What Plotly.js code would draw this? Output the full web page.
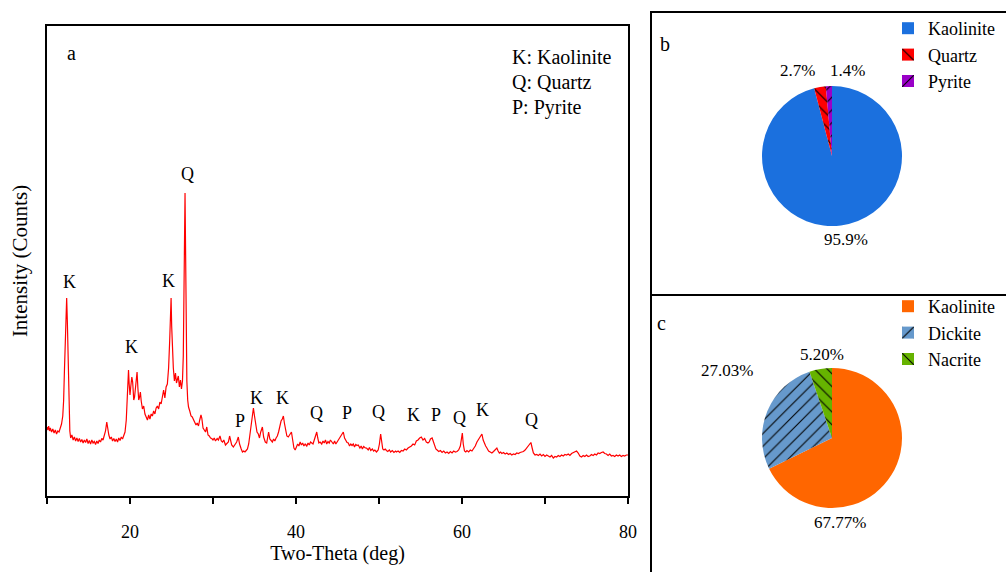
<!DOCTYPE html>
<html>
<head>
<meta charset="utf-8">
<script src="https://cdn.plot.ly/plotly-3.0.1.min.js"></script>
<style>html,body{margin:0;padding:0;background:#fff;}#chart{width:1006px;height:572px;}</style>
</head>
<body>
<div id="chart"></div>
<script>
// ---------- Panel a: XRD pattern ----------
const xrdTheta = [
10.00,10.10,10.20,10.30,10.40,10.55,10.70,10.85,11.00,11.15,11.30,11.45,11.60,11.75,11.90,12.00,12.10,12.20,12.30,12.37,12.45,12.55,12.65,12.75,12.85,
13.00,13.15,13.30,13.45,13.60,13.75,13.90,14.05,14.20,14.35,14.50,14.65,14.80,14.95,15.10,15.25,15.40,15.55,15.70,15.85,16.00,16.15,16.30,16.45,16.60,16.75,16.90,
17.05,17.20,17.30,17.45,17.60,17.75,17.90,18.05,18.20,18.35,18.50,18.65,18.80,18.95,19.10,19.25,19.40,19.55,19.65,19.75,19.82,19.90,20.00,20.10,20.22,20.32,20.45,
20.55,20.70,20.85,20.95,21.05,21.15,21.25,21.35,21.50,21.65,21.80,21.95,22.10,22.25,22.40,22.55,22.70,22.85,23.00,23.15,23.30,23.45,23.60,23.75,23.90,24.05,24.20,
24.35,24.50,24.65,24.78,24.88,24.95,25.02,25.12,25.22,25.35,25.48,25.60,25.72,25.82,25.95,26.08,26.20,26.32,26.42,26.50,26.58,26.63,26.68,26.75,26.85,26.95,
27.05,27.20,27.35,27.50,27.65,27.80,27.95,28.10,28.25,28.40,28.55,28.65,28.80,28.95,29.10,29.25,29.40,29.55,29.70,29.85,30.00,30.15,30.30,30.50,30.65,30.84,
31.00,31.15,31.30,31.50,31.65,31.85,32.00,32.10,32.25,32.45,32.65,32.85,33.05,33.20,33.40,33.55,33.70,33.85,34.00,34.15,34.30,34.45,34.60,34.75,34.87,35.00,
35.15,35.30,35.46,35.60,35.75,35.95,36.10,36.30,36.47,36.60,36.70,36.85,37.00,37.15,37.30,37.45,37.60,37.75,37.90,38.05,38.20,38.35,38.48,38.60,38.75,38.90,
39.07,39.25,39.45,39.60,39.75,39.90,40.05,40.20,40.35,40.50,40.65,40.80,40.95,41.10,41.30,41.45,41.60,41.75,41.90,42.05,42.20,42.35,42.50,42.62,42.75,42.90,
43.10,43.25,43.40,43.55,43.70,43.85,44.00,44.15,44.30,44.50,44.65,44.80,44.95,45.10,45.25,45.40,45.55,45.70,45.85,46.00,46.15,46.30,46.45,46.60,46.75,46.90,
47.05,47.20,47.35,47.50,47.70,47.85,48.00,48.15,48.35,48.50,48.70,48.85,49.00,49.20,49.35,49.50,49.70,49.90,50.05,50.20,50.32,50.45,50.60,50.75,50.90,51.05,
51.25,51.40,51.60,51.80,52.00,52.10,52.30,52.50,52.70,52.90,53.10,53.30,53.50,53.70,53.90,54.10,54.30,54.50,54.70,54.90,55.10,55.30,55.50,55.70,55.90,56.05,
56.20,56.40,56.55,56.70,56.85,57.00,57.20,57.40,57.60,57.80,58.00,58.20,58.40,58.60,58.80,59.00,59.20,59.40,59.60,59.80,59.95,60.04,60.15,60.30,60.45,60.60,
60.80,61.00,61.20,61.40,61.60,61.80,62.00,62.20,62.40,62.55,62.70,62.85,63.00,63.20,63.40,63.60,63.80,64.00,64.20,64.35,64.50,64.65,64.80,65.00,65.20,65.40,
65.60,65.80,66.00,66.20,66.40,66.60,66.80,67.00,67.20,67.40,67.60,67.80,68.00,68.15,68.30,68.45,68.60,68.80,69.00,69.20,69.40,69.60,69.80,70.00,70.20,70.40,
70.60,70.80,71.00,71.20,71.40,71.60,71.80,72.00,72.20,72.40,72.60,72.80,73.00,73.20,73.40,73.60,73.80,74.00,74.20,74.40,74.60,74.80,75.00,75.20,75.40,75.60,
75.80,76.00,76.20,76.40,76.60,76.80,77.00,77.20,77.40,77.60,77.80,78.00,78.20,78.40,78.60,78.80,79.00,79.20,79.40,79.60,79.80,80.00
];
const xrdCounts = [
690,660,700,650,680,640,670,630,660,620,650,640,680,720,800,950,1250,1600,1900,1980,1750,1250,850,650,580,
610,560,590,550,580,545,575,540,565,530,560,535,570,525,555,520,560,530,545,515,550,525,560,540,575,560,610,
650,740,680,610,570,590,550,575,545,570,540,580,555,590,570,610,640,760,1000,1230,1260,1120,1010,1100,1190,1140,960,
990,1120,1240,1080,960,990,1040,950,870,900,820,790,760,810,770,820,800,850,820,880,900,870,940,920,990,1060,980,
1090,1120,1280,1550,1850,1980,1700,1350,1280,1150,1230,1130,1170,1200,1090,1160,1070,1150,1400,2200,2900,3030,2600,1700,1150,960,
890,850,800,790,760,740,710,730,700,760,810,780,680,660,640,690,610,600,580,575,560,580,550,575,560,600,
550,540,560,510,520,540,600,560,510,490,520,540,590,520,470,440,450,440,455,470,520,620,760,850,880,800,
700,640,620,580,640,690,590,540,530,600,640,570,550,540,570,550,580,600,640,700,750,770,800,730,650,600,
590,610,640,560,480,460,490,520,500,540,510,530,500,520,500,530,510,540,530,520,560,610,640,580,530,540,
520,550,530,560,520,545,530,560,540,520,550,520,540,560,570,590,610,640,580,550,535,530,500,520,505,520,
490,515,505,510,480,500,470,495,480,480,460,485,455,470,450,460,440,460,520,620,540,470,460,470,455,445,
460,440,455,435,450,440,450,435,455,450,470,460,480,490,500,520,510,550,560,580,590,560,575,540,530,540,
570,580,540,490,470,460,445,455,435,450,430,440,425,445,430,450,440,445,460,500,600,630,520,450,440,455,
440,460,450,470,500,540,570,590,620,560,520,500,480,450,440,430,445,460,480,450,430,440,425,435,420,430,
415,425,410,420,415,430,425,435,440,445,460,480,500,520,535,480,430,410,415,405,420,400,415,395,410,400,
390,405,380,395,390,405,395,410,400,415,410,420,405,425,435,440,450,430,400,390,405,395,410,395,400,415,
405,420,410,430,425,435,440,425,420,405,420,400,405,395,410,400,410,395,405,400,410,410
];
const xTickVals = [10,20,30,40,50,60,70,80];
const xTickText = ['', '20', '', '40', '', '60', '', '80'];

const peakLabels = ['K','K','K','Q','P','K','K','Q','P','Q','K','P','Q','K','Q'];
const peakTheta = [12.65,20.24,24.58,26.87,33.25,35.3,38.43,42.41,46.14,49.88,54.1,56.87,59.64,62.41,68.43];
const peakLabelCounts = [2140,1490,2150,3220,750,980,980,830,830,840,810,810,780,860,760];

const keyLines = ['K: Kaolinite', 'Q: Quartz', 'P: Pyrite'];

// ---------- Panel b ----------
const bLabels = ['Kaolinite', 'Quartz', 'Pyrite'];
const bValues = [95.9, 2.7, 1.4];
const bColors = ['#1b70de', '#ff0000', '#9a00c8'];
const bPatterns = ['', '\\', '/'];

// ---------- Panel c ----------
// trailing no-break space keeps the legend entry distinct from panel b's Kaolinite
const cLabels = ['Kaolinite\u00a0', 'Dickite', 'Nacrite'];
const cValues = [67.77, 27.03, 5.20];
const cColors = ['#ff6600', '#6699cc', '#66b300'];
const cPatterns = ['', '/', '\\'];

// ---------- layout helpers (pixel -> paper) ----------
const W = 1006, H = 572;
const px = v => v / W;
const py = v => 1 - v / H;
const FONT = 'Liberation Serif';

const traces = [
  {
    type: 'scatter', mode: 'lines',
    x: xrdTheta, y: xrdCounts,
    line: {color: '#ff0000', width: 1.2},
    xaxis: 'x', yaxis: 'y', showlegend: false, hoverinfo: 'x+y'
  },
  {
    type: 'pie', labels: bLabels, values: bValues, sort: false,
    direction: 'clockwise', rotation: 0,
    marker: {colors: bColors, line: {width: 0},
             pattern: {shape: bPatterns, fgcolor: '#000000', bgcolor: bColors, size: 9, solidity: 0.12, fillmode: 'replace'}},
    textinfo: 'none',
    domain: {x: [px(762), px(902)], y: [py(226), py(86)]},
    legend: 'legend', showlegend: true
  },
  {
    type: 'pie', labels: cLabels, values: cValues, sort: false,
    direction: 'clockwise', rotation: 0,
    marker: {colors: cColors, line: {width: 0},
             pattern: {shape: cPatterns, fgcolor: '#000000', bgcolor: cColors, size: 9, solidity: 0.12, fillmode: 'replace'}},
    textinfo: 'none',
    domain: {x: [px(762), px(902)], y: [py(508), py(368)]},
    legend: 'legend2', showlegend: true
  }
];

const annotations = [];
peakLabels.forEach((t, i) => annotations.push({
  x: peakTheta[i], y: peakLabelCounts[i], xref: 'x', yref: 'y', text: t,
  xanchor: 'center', yanchor: 'middle',
  showarrow: false, font: {family: FONT, size: 18, color: '#000'}
}));
keyLines.forEach((t, i) => annotations.push({
  x: px(510), y: py(57 + i * 25), xref: 'paper', yref: 'paper', text: t,
  xanchor: 'left', yanchor: 'middle', showarrow: false,
  font: {family: FONT, size: 20, color: '#000'}
}));
[['a', 71, 53], ['b', 665, 44], ['c', 661, 323]].forEach(p => annotations.push({
  x: px(p[1]), y: py(p[2]), xref: 'paper', yref: 'paper', text: p[0],
  xanchor: 'center', yanchor: 'middle',
  showarrow: false, font: {family: FONT, size: 20, color: '#000'}
}));
const bLabelPos = [[846, 239], [797, 70], [847, 70]];
bValues.forEach((v, i) => annotations.push({
  x: px(bLabelPos[i][0]), y: py(bLabelPos[i][1]), xref: 'paper', yref: 'paper',
  xanchor: 'center', yanchor: 'middle',
  text: v.toFixed(1) + '%', showarrow: false, font: {family: FONT, size: 17, color: '#000'}
}));
const cLabelPos = [[840, 522], [727, 370], [822, 354]];
cValues.forEach((v, i) => annotations.push({
  x: px(cLabelPos[i][0]), y: py(cLabelPos[i][1]), xref: 'paper', yref: 'paper',
  xanchor: 'center', yanchor: 'middle',
  text: v.toFixed(2) + '%', showarrow: false, font: {family: FONT, size: 17, color: '#000'}
}));

const shapes = [
  {type: 'rect', xref: 'paper', yref: 'paper', x0: px(651), x1: px(1012), y0: py(295), y1: py(12),
   line: {color: '#000', width: 2}},
  {type: 'rect', xref: 'paper', yref: 'paper', x0: px(651), x1: px(1012), y0: py(580), y1: py(295),
   line: {color: '#000', width: 2}}
];

const legendCommon = {
  xanchor: 'left', yanchor: 'top', bgcolor: 'rgba(0,0,0,0)',
  font: {family: FONT, size: 18, color: '#000'}, tracegroupgap: 0, itemclick: false
};

const layout = {
  width: W, height: H,
  margin: {l: 0, r: 0, t: 0, b: 0, autoexpand: false},
  paper_bgcolor: '#fff', plot_bgcolor: '#fff',
  font: {family: FONT},
  xaxis: {
    domain: [px(47), px(628)], range: [10, 80],
    tickvals: xTickVals, ticktext: xTickText,
    ticks: 'outside', ticklen: 6, tickwidth: 1.5, tickcolor: '#000',
    showline: true, linecolor: '#000', linewidth: 2, mirror: true,
    showgrid: false, zeroline: false, ticklabelstandoff: 12,
    tickfont: {family: FONT, size: 18, color: '#000'},
    title: {text: 'Two-Theta (deg)', font: {family: FONT, size: 20, color: '#000'}, standoff: 0},
    automargin: false
  },
  yaxis: {
    domain: [py(496), py(26)], range: [0, 4700],
    showticklabels: false, ticks: '',
    showline: true, linecolor: '#000', linewidth: 2, mirror: true,
    showgrid: false, zeroline: false,
    title: {text: 'Intensity (Counts)', font: {family: FONT, size: 21, color: '#000'}, standoff: 12},
    automargin: false
  },
  legend: Object.assign({x: px(888), y: py(10)}, legendCommon),
  legend2: Object.assign({x: px(888), y: py(288)}, legendCommon),
  annotations: annotations,
  shapes: shapes,
  showlegend: true
};

Plotly.newPlot('chart', traces, layout, {displayModeBar: false, staticPlot: true});
</script>
</body>
</html>
